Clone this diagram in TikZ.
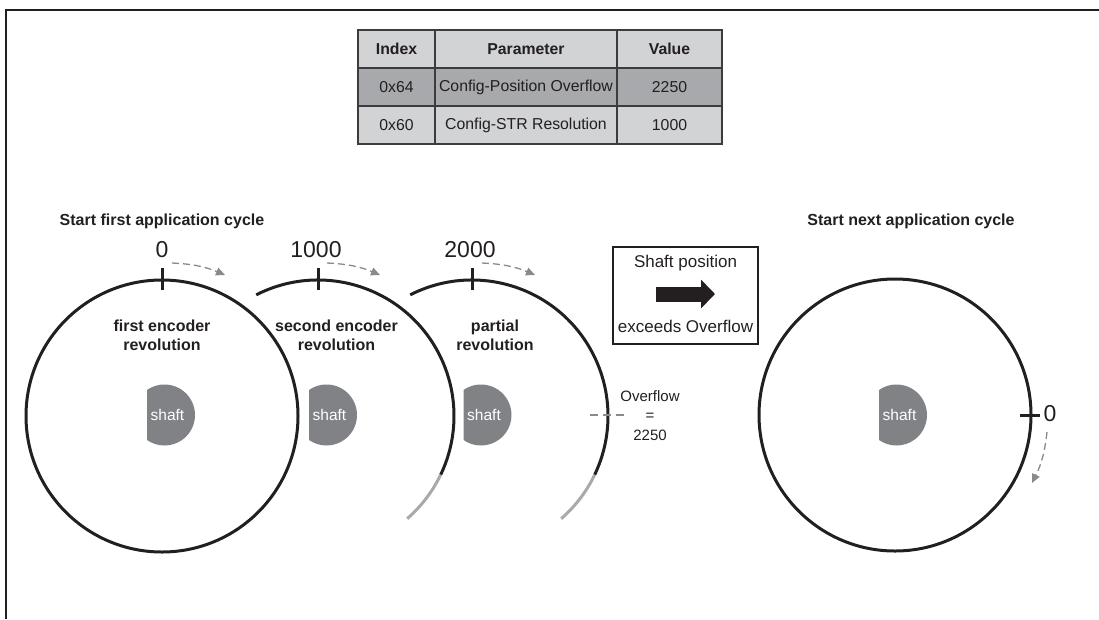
\documentclass[tikz,border=0pt]{standalone}
\usepackage{fontspec}
\setmainfont{Liberation Sans}
\usetikzlibrary{arrows.meta}
\definecolor{ink}{HTML}{231F20}
\definecolor{tabline}{HTML}{3C3C3C}
\definecolor{hdrfill}{HTML}{D1D3D4}
\definecolor{rowdark}{HTML}{A7A9AC}
\definecolor{shaftgray}{HTML}{808285}
\definecolor{arcgray}{HTML}{A7A9AC}
\definecolor{dashgray}{HTML}{8A8A8A}

\begin{document}
\begin{tikzpicture}[x=1pt,y=1pt,
  cell/.style={draw=tabline, line width=1.4pt, minimum height=38pt, inner sep=0pt,
    outer sep=0pt, font=\fontsize{15.8}{18}\selectfont, text=ink},
  hdr/.style={cell, fill=hdrfill, font=\bfseries\fontsize{15.8}{18}\selectfont},
  lightrow/.style={cell, fill=hdrfill},
  darkrow/.style={cell, fill=rowdark},
  wheel/.style={draw=ink, line width=3pt},
  wheelrest/.style={draw=arcgray, line width=3pt},
  tick/.style={draw=ink, line width=3pt},
  ticklabel/.style={text=ink, font=\fontsize{23}{26}\selectfont, inner sep=0pt},
  headline/.style={text=ink, font=\bfseries\fontsize{16}{19}\selectfont, inner sep=0pt},
  revlabel/.style={text=ink, align=center, font=\bfseries\fontsize{16}{19}\selectfont, inner sep=0pt},
  turn/.style={draw=dashgray, line width=1.3pt, dash pattern=on 7pt off 4pt,
    -{Triangle[length=9pt,width=8pt]}},
  plain/.style={text=ink, font=\fontsize{15}{19.5}\selectfont, inner sep=0pt, align=center},
  shaftpic/.pic={
    \fill[shaftgray] (125:30.5) arc[start angle=125, end angle=-125, radius=30.5] -- cycle;
    \node[text=white, font=\fontsize{15.5}{18}\selectfont, inner sep=0pt] (-txt) at (3,0) {shaft};
  }]

\useasboundingbox (0,0) rectangle (1099,-619);

% frame
\draw[ink, line width=1.5pt] (6,-619) -- (6,-10) -- (1099,-10);

% parameter table
\node[hdr, minimum width=77pt]  (h1) at (396.5,-49) {Index};
\node[hdr, minimum width=182pt] (h2) at (526,-49) {Parameter};
\node[hdr, minimum width=105pt] (h3) at (669.5,-49) {Value};
\node[darkrow, minimum width=77pt]  (a1) at (396.5,-87) {0x64};
\node[darkrow, minimum width=182pt] (a2) at (526,-87) {Config-Position Overflow};
\node[darkrow, minimum width=105pt] (a3) at (669.5,-87) {2250};
\node[lightrow, minimum width=77pt]  (b1) at (396.5,-125) {0x60};
\node[lightrow, minimum width=182pt] (b2) at (526,-125) {Config-STR Resolution};
\node[lightrow, minimum width=105pt] (b3) at (669.5,-125) {1000};

% headings
\node[headline] (startfirst) at (162,-221) {Start first application cycle};
\node[headline] (startnext) at (911,-221) {Start next application cycle};

% first revolution
\coordinate (c1) at (162,-416);
\draw[wheel] (c1) circle[radius=136];
\draw[tick] (162,-268) -- (162,-290);
\node[ticklabel] (t0) at (162,-250) {0};
\coordinate (r1s) at (172,-263);
\coordinate (r1e) at (225,-275);
\draw[turn] (r1s) to[bend left=10] (r1e);
\node[revlabel] (rev1) at (162,-335) {first encoder\\revolution};
\pic (s1) at (164.5,-415) {shaftpic};

% second revolution
\coordinate (c2) at (318,-416);
\draw[wheel] (c2) ++(117:136) arc[start angle=117, end angle=-25.6, radius=136];
\draw[wheelrest] (c2) ++(-25.6:136) arc[start angle=-25.6, end angle=-49, radius=136];
\draw[tick] (318,-268) -- (318,-290);
\node[ticklabel] (t1000) at (316,-250) {1000};
\coordinate (r2s) at (327,-263);
\coordinate (r2e) at (380,-275);
\draw[turn] (r2s) to[bend left=10] (r2e);
\node[revlabel] (rev2) at (336.5,-335) {second encoder\\revolution};
\pic (s2) at (326.5,-415) {shaftpic};

% partial revolution
\coordinate (c3) at (472,-416);
\draw[wheel] (c3) ++(117:136) arc[start angle=117, end angle=-25.6, radius=136];
\draw[wheelrest] (c3) ++(-25.6:136) arc[start angle=-25.6, end angle=-49, radius=136];
\draw[tick] (472,-268) -- (472,-290);
\node[ticklabel] (t2000) at (470,-250) {2000};
\coordinate (r3s) at (482,-263);
\coordinate (r3e) at (535,-275);
\draw[turn] (r3s) to[bend left=10] (r3e);
\node[revlabel] (rev3) at (495,-335) {partial\\revolution};
\pic (s3) at (481,-415) {shaftpic};

% overflow mark
\coordinate (ovs) at (590,-415);
\coordinate (ove) at (625,-415);
\draw[draw=dashgray, line width=1.3pt, dash pattern=on 8pt off 5pt] (ovs) -- (ove);
\node[plain] (ovl) at (650,-415.5) {Overflow\\=\\2250};

% transition box
\node[draw=ink, line width=1.2pt, minimum width=145pt, minimum height=97pt, inner sep=0pt] (box) at (685.5,-295.5) {};
\node[text=ink, font=\fontsize{17}{20}\selectfont, inner sep=0pt] (bx1) at (685.5,-263) {Shaft position};
\node[text=ink, font=\fontsize{17}{20}\selectfont, inner sep=0pt] (bx2) at (685.5,-326) {exceeds Overflow};
\coordinate (ars) at (656,-294);
\coordinate (are) at (715,-294);
\draw[ink, line width=15pt, -{Triangle[length=14pt,width=28pt]}] (ars) -- (are);

% next cycle
\coordinate (c4) at (895,-415);
\draw[wheel] (c4) circle[radius=136];
\draw[tick] (1020,-415) -- (1040,-415);
\node[ticklabel] (tnext) at (1050,-414) {0};
\coordinate (r4s) at (1047,-432);
\coordinate (r4e) at (1032,-483);
\draw[turn] (r4s) to[bend left=10] (r4e);
\pic (s4) at (896.5,-415) {shaftpic};

\end{tikzpicture}
\end{document}
